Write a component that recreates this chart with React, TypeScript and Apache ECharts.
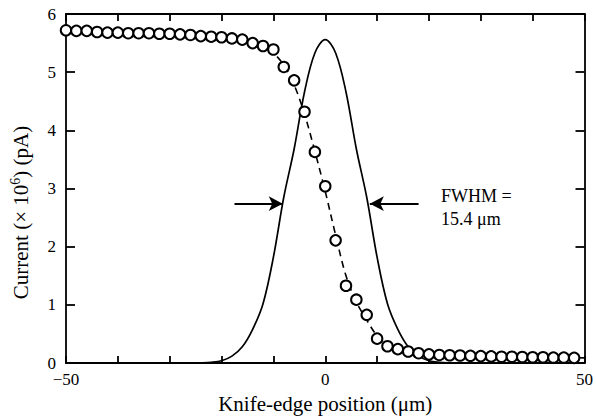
import React, { useEffect, useRef } from "react";
import * as echarts from "echarts";

const FONT = "Liberation Serif";

// Knife-edge positions (μm) of measured points
const knifeX = [
  -50, -48, -46, -44, -42, -40, -38, -36, -34, -32, -30, -28, -26, -24, -22, -20, -18, -16, -14, -12,
  -10, -8, -6, -4, -2, 0, 2, 4, 6, 8, 10, 12, 14, 16, 18, 20, 22, 24, 26, 28,
  30, 32, 34, 36, 38, 40, 42, 44, 46, 48,
];
// Measured current (×10^6 pA)
const currentMeasured = [
  5.72, 5.71, 5.71, 5.69, 5.68, 5.68, 5.67, 5.67, 5.67, 5.66, 5.66, 5.65, 5.64, 5.62, 5.61, 5.6, 5.58, 5.56, 5.5, 5.45,
  5.39, 5.09, 4.86, 4.32, 3.63, 3.04, 2.11, 1.33, 1.09, 0.83, 0.42, 0.29, 0.24, 0.2, 0.17, 0.15, 0.14, 0.135, 0.13, 0.125,
  0.12, 0.115, 0.11, 0.11, 0.105, 0.1, 0.1, 0.095, 0.095, 0.09,
];

// Dashed fit through the measured points
const fitX = [-50, -40, -30, -24, -20, -16, -14, -12, -10, -8, -6, -4, -2, 0, 2, 4, 6, 8, 10, 12, 14, 16, 18, 20, 24, 30, 40, 50];
const fitY = [5.72, 5.69, 5.66, 5.63, 5.6, 5.56, 5.52, 5.45, 5.33, 5.12, 4.78, 4.28, 3.64, 2.95, 2.2, 1.5, 1.05, 0.74, 0.47, 0.32, 0.24, 0.2, 0.17, 0.15, 0.135, 0.12, 0.1, 0.09];

// Beam profile (solid curve)
const beamX = [-50, -28, -26, -24, -22, -20, -18, -16, -14, -12, -10, -8, -6, -4, -2, 0, 2, 4, 6, 8, 10, 12, 14, 16, 18, 20, 22, 24, 26, 28, 50];
const beamY = [0, 0, 0.001, 0.004, 0.013, 0.04, 0.12, 0.28, 0.58, 1.02, 1.82, 2.85, 3.68, 4.66, 5.33, 5.56, 5.33, 4.66, 3.68, 2.85, 1.82, 1.02, 0.58, 0.28, 0.12, 0.04, 0.013, 0.004, 0.001, 0, 0];

// Annotation
const fwhmLabel = ["FWHM =", "15.4 μm"];
const arrowLevel = 2.74;
const leftArrow = [-17.5, -8.2];
const rightArrow = [18, 8.6];

const xLabelValues = [-50, 0, 50];

const fmtNum = (v: number) => (v < 0 ? "\u2212" + Math.abs(v) : String(v));

export default function App() {
  const ref = useRef<HTMLDivElement>(null);
  useEffect(() => {
    if (!ref.current) return;
    const chart = echarts.init(ref.current, undefined, { renderer: "svg" });
    const axisLine = { show: true, onZero: false, lineStyle: { color: "#000", width: 1.8 } };
    const tick = (len: number) => ({ show: true, inside: true, length: len, lineStyle: { color: "#000", width: 1.8 } });
    chart.setOption({
      animation: false,
      backgroundColor: "#fff",
      grid: { left: 62, right: 7, top: 14, bottom: 50, containLabel: false },
      xAxis: [
        {
          type: "value",
          min: -50,
          max: 50,
          interval: 10,
          position: "bottom",
          axisLine,
          axisTick: tick(7),
          splitLine: { show: false },
          axisLabel: {
            color: "#000",
            fontFamily: FONT,
            fontSize: 17,
            margin: 8,
            formatter: (v: number) => (xLabelValues.includes(v) ? fmtNum(v) : ""),
          },
          name: "Knife-edge position (μm)",
          nameLocation: "middle",
          nameGap: 27,
          nameTextStyle: { color: "#000", fontFamily: FONT, fontSize: 21 },
        },
        {
          type: "value",
          min: -50,
          max: 50,
          interval: 10,
          position: "top",
          axisLine,
          axisTick: tick(7),
          splitLine: { show: false },
          axisLabel: { show: false },
        },
      ],
      yAxis: [
        {
          type: "value",
          min: 0,
          max: 6,
          interval: 1,
          position: "left",
          axisLine,
          axisTick: tick(9),
          splitLine: { show: false },
          axisLabel: { color: "#000", fontFamily: FONT, fontSize: 17, margin: 10 },
          name: "{a|Current (× 10}{s|6}{a|) (pA)}",
          nameLocation: "middle",
          nameGap: 33,
          nameTextStyle: {
            color: "#000",
            fontFamily: FONT,
            padding: [0, 48, 0, 0],
            rich: {
              a: { fontSize: 21, lineHeight: 25, fontFamily: FONT, color: "#000" },
              s: { fontSize: 14, lineHeight: 15, fontFamily: FONT, color: "#000", verticalAlign: "top" },
            },
          },
        },
        {
          type: "value",
          min: 0,
          max: 6,
          interval: 1,
          position: "right",
          axisLine,
          axisTick: tick(9),
          splitLine: { show: false },
          axisLabel: { show: false },
        },
      ],
      series: [
        {
          type: "line",
          name: "fit",
          data: fitX.map((x, i) => [x, fitY[i]]),
          smooth: 0.35,
          symbol: "none",
          lineStyle: { color: "#000", width: 1.6, type: [7, 5] },
          z: 2,
        },
        {
          type: "line",
          name: "beam",
          data: beamX.map((x, i) => [x, beamY[i]]),
          smooth: 0.35,
          symbol: "none",
          lineStyle: { color: "#000", width: 1.7 },
          z: 3,
          markLine: {
            silent: true,
            symbol: ["none", "arrow"],
            symbolSize: [11, 14],
            label: { show: false },
            lineStyle: { color: "#000", width: 2, type: "solid" },
            data: [
              [{ coord: [leftArrow[0], arrowLevel] }, { coord: [leftArrow[1], arrowLevel] }],
              [{ coord: [rightArrow[0], arrowLevel] }, { coord: [rightArrow[1], arrowLevel] }],
            ],
          },
        },
        {
          type: "scatter",
          name: "measured",
          data: knifeX.map((x, i) => [x, currentMeasured[i]]),
          symbol: "circle",
          symbolSize: 10.5,
          itemStyle: { color: "#fff", borderColor: "#000", borderWidth: 2, opacity: 1 },
          z: 4,
        },
      ],
      graphic: [
        {
          type: "text",
          left: 441,
          top: 187,
          style: { text: fwhmLabel[0], fill: "#000", font: `18px '${FONT}'` },
        },
        {
          type: "text",
          left: 441,
          top: 210,
          style: { text: fwhmLabel[1], fill: "#000", font: `18px '${FONT}'` },
        },
      ],
    });
    return () => chart.dispose();
  }, []);
  return (
    <div
      ref={ref}
      style={{ position: "absolute", left: 0, top: 0, width: 596, height: 419, background: "#fff" }}
    />
  );
}
